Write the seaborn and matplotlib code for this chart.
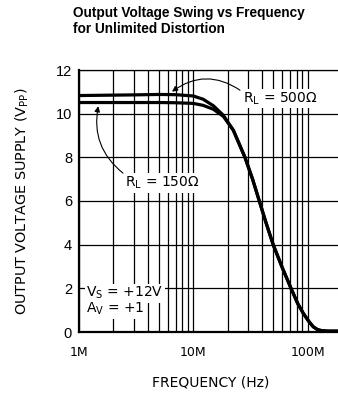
import matplotlib
matplotlib.use("Agg")
import matplotlib.pyplot as plt
import matplotlib.ticker as mticker
import numpy as np
import pandas as pd
import seaborn as sns

# ---- data (frequency in MHz, output swing in Vpp) ----
freq_500 = [1, 3, 5, 7, 10, 12.2, 15, 18.3, 22.4, 28.3, 33, 37.8, 43, 50, 60, 71.6, 82, 91.8, 102, 112, 122, 133, 150, 200]
vout_500 = [10.83, 10.86, 10.88, 10.87, 10.81, 10.66, 10.36, 9.93, 9.24, 8.0, 7.0, 6.0, 5.05, 4.0, 2.95, 2.0, 1.3, 0.85, 0.5, 0.24, 0.11, 0.06, 0.04, 0.04]
freq_150 = [1, 3, 5, 7, 10, 12.2, 15, 18.3, 22.4, 28.3, 33, 37.8, 43, 50, 60, 71.6, 82, 91.8, 102, 112, 122, 133, 150, 200]
vout_150 = [10.51, 10.51, 10.51, 10.5, 10.47, 10.38, 10.2, 9.88, 9.24, 8.0, 7.0, 6.0, 5.05, 4.0, 2.95, 2.0, 1.3, 0.85, 0.5, 0.24, 0.11, 0.06, 0.04, 0.04]
series_names = ["RL=500", "RL=150"]
x_tick_vals = [1e6, 1e7, 1e8]
x_tick_labels = ["1M", "10M", "100M"]
y_tick_vals = [0, 2, 4, 6, 8, 10, 12]

df = pd.concat([
    pd.DataFrame({"f": np.array(freq_500) * 1e6, "v": vout_500, "s": series_names[0]}),
    pd.DataFrame({"f": np.array(freq_150) * 1e6, "v": vout_150, "s": series_names[1]}),
])

sns.set_style("white")
plt.rcParams["font.family"] = ["DejaVu Sans"]
plt.rcParams["mathtext.fontset"] = "dejavusans"
for k in ["text.color", "axes.labelcolor", "xtick.color", "ytick.color"]:
    plt.rcParams[k] = "black"

W, H = 338, 393
fig = plt.figure(figsize=(W / 100, H / 100), dpi=100)
fig.patch.set_facecolor("white")

x0, x1 = 79, 79 + 2.30103 * 114.3
y_top, y_bot = 70, 332
ax = fig.add_axes([x0 / W, 1 - y_bot / H, (x1 - x0) / W, (y_bot - y_top) / H])

sns.lineplot(data=df, x="f", y="v", hue="s", palette=["black", "black"],
             lw=2.3, legend=False, ax=ax, zorder=5, sort=False)
for ln in ax.lines:
    ln.set_solid_capstyle("butt")
    ln.set_solid_joinstyle("round")

ax.set_xscale("log")
ax.set_xlim(1e6, 2e8)
ax.set_ylim(0, 12)
ax.xaxis.set_major_locator(mticker.FixedLocator(x_tick_vals))
ax.xaxis.set_major_formatter(mticker.FixedFormatter(x_tick_labels))
ax.xaxis.set_minor_locator(mticker.LogLocator(base=10, subs=np.arange(2, 10)))
ax.xaxis.set_minor_formatter(mticker.NullFormatter())
ax.set_yticks(y_tick_vals)

ax.grid(True, which="both", axis="x", color="black", lw=0.9)
ax.grid(True, which="major", axis="y", color="black", lw=0.9)
ax.set_axisbelow(True)

ax.tick_params(axis="both", which="both", length=0)
ax.tick_params(axis="x", pad=10, labelsize=9)
ax.tick_params(axis="y", pad=5, labelsize=10.5)
for lab in ax.get_yticklabels():
    lab.set_fontfamily("Liberation Sans")

for side in ["left", "bottom"]:
    ax.spines[side].set_linewidth(1.6)
    ax.spines[side].set_color("black")
ax.spines["top"].set_linewidth(0.9)
ax.spines["top"].set_color("black")
ax.spines["right"].set_visible(False)

ax.set_xlabel("FREQUENCY (Hz)", fontsize=10, labelpad=12)
ax.set_ylabel("OUTPUT VOLTAGE SUPPLY (V$_\\mathrm{PP}$)", fontsize=10.4, labelpad=18)


def px(xp, yp):
    return 1e6 * 10 ** ((xp - 79) / 114.3), (332 - yp) / 21.85


box = dict(fc="white", ec="none", pad=1.0)
ax.text(*px(243, 102.3), "R$_\\mathrm{L}$ = 500Ω", fontsize=10, ha="left", va="baseline", bbox=box, zorder=6)
ax.text(*px(125, 186.7), "R$_\\mathrm{L}$ = 150Ω", fontsize=10, ha="left", va="baseline", bbox=box, zorder=6)
ax.text(*px(86, 297), "V$_\\mathrm{S}$ = +12V", fontsize=10, ha="left", va="baseline", bbox=box, zorder=6)
ax.text(*px(86, 313), "A$_\\mathrm{V}$ = +1", fontsize=10, ha="left", va="baseline", bbox=box, zorder=6)

arrow = dict(arrowstyle="-|>", color="black", lw=0.8, mutation_scale=8, shrinkA=0, shrinkB=0)
ax.annotate("", xy=px(172, 91.5), xytext=px(240, 90),
            arrowprops=dict(arrow, connectionstyle="arc3,rad=0.35"), zorder=7)
ax.annotate("", xy=px(98.3, 106), xytext=px(123, 173),
            arrowprops=dict(arrow, connectionstyle="arc3,rad=-0.3"), zorder=7)

fig.text(73 / W, 1 - 6 / H, "Output Voltage Swing vs Frequency\nfor Unlimited Distortion",
         ha="left", va="top", fontsize=9.8, fontweight="bold", linespacing=1.2,
         family=["Liberation Sans", "DejaVu Sans"])

fig.savefig("out.png", dpi=100)
